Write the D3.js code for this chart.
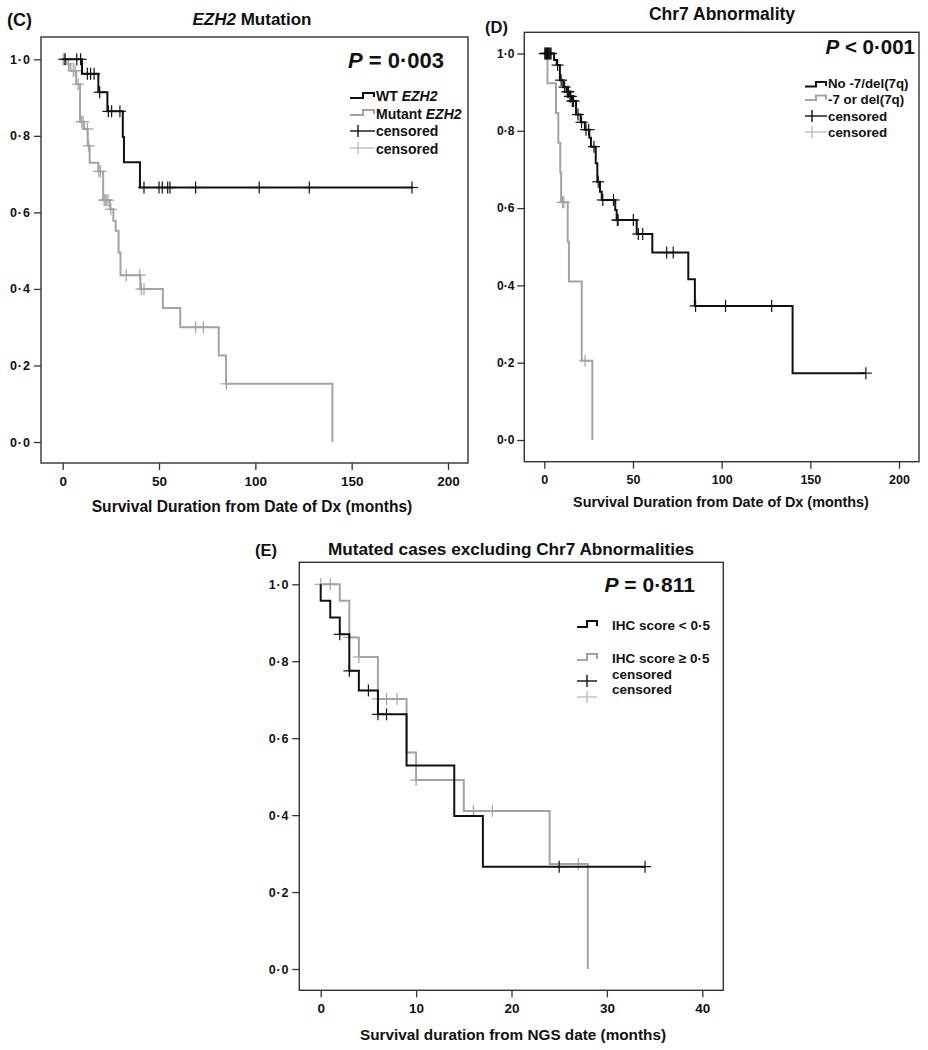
<!DOCTYPE html>
<html><head><meta charset="utf-8">
<script src="https://cdn.jsdelivr.net/npm/d3@7"></script>
<style>
body{margin:0;background:#fff;}
text{font-family:"Liberation Sans",Arial,Helvetica,sans-serif;font-weight:bold;fill:#111;}
</style></head>
<body><svg id="chart" width="928" height="1050"></svg>
<script>
// ---------- DATA ----------
const yTicks = [0, 0.2, 0.4, 0.6, 0.8, 1.0];
const yTickLabels = ["0·0", "0·2", "0·4", "0·6", "0·8", "1·0"];
const dxTicks = [0, 50, 100, 150, 200];
const ngsTicks = [0, 10, 20, 30, 40];

// Panel C: EZH2 mutation
const cWtTimes = [0, 10, 18.5, 23.2, 31.2, 31.8, 40.1, 181.5];
const cWtSurv  = [1, 0.962, 0.914, 0.864, 0.797, 0.731, 0.665, 0.665];
const cWtCens  = [1.2, 7.3, 9.3, 12.8, 14.5, 16.3, 19.2, 23.7, 25.4, 29.7, 42.2, 50, 51.7, 54.5, 55.7, 69, 102, 128, 181.3];
const cMutTimes = [0, 2, 4, 7, 9, 11, 13, 14, 18.5, 21, 24.5, 26.3, 27.5, 29, 30, 40.3, 52, 61, 81, 84.8, 140];
const cMutSurv  = [1, 0.988, 0.970, 0.935, 0.837, 0.818, 0.774, 0.730, 0.707, 0.632, 0.608, 0.578, 0.552, 0.495, 0.436, 0.400, 0.350, 0.300, 0.226, 0.152, 0];
const cMutCens  = [0.3, 1.2, 3, 5.5, 6.5, 8, 9.8, 10.6, 12.8, 13.5, 18.8, 19.6, 21.5, 22, 22.6, 23.5, 25, 33, 40, 40.8, 42.2, 69, 73, 85];

// Panel D: Chr7 abnormality
const dNoTimes = [0, 5.5, 7, 8.8, 10.7, 12.6, 14.1, 15.4, 17.9, 20.5, 22.9, 25.4, 26.3, 29, 29.9, 31.4, 32.4, 40, 40.8, 52.1, 60.9, 81.2, 84.9, 140, 181.3];
const dNoSurv  = [1, 0.983, 0.970, 0.931, 0.913, 0.901, 0.889, 0.877, 0.842, 0.822, 0.803, 0.782, 0.759, 0.716, 0.668, 0.642, 0.621, 0.595, 0.569, 0.533, 0.485, 0.416, 0.347, 0.173, 0.173];
const dNoCens  = [0.3, 0.8, 1.3, 1.8, 2.3, 2.8, 3.3, 3.8, 7.5, 9.5, 11.5, 13, 13.6, 14.5, 15, 15.8, 16.5, 19, 21, 23.5, 25, 28, 30.4, 33, 39, 41.2, 41.6, 50.2, 53, 55.5, 69, 72.7, 85.3, 102.2, 128.2, 181.3];
const dDelTimes = [0, 1.8, 6.6, 7.9, 9.0, 9.5, 13.2, 13.9, 21.1, 27.1];
const dDelSurv  = [1, 0.923, 0.846, 0.769, 0.692, 0.615, 0.513, 0.410, 0.205, 0];
const dDelCens  = [0.5, 1.2, 10.3, 11.0, 23];

// Panel E: mutated cases excluding Chr7 abnormalities
const eLowTimes = [0, 0, 1, 2, 3, 4, 6, 9, 14, 17, 34];
const eLowSurv  = [1, 0.957, 0.914, 0.870, 0.775, 0.724, 0.662, 0.529, 0.398, 0.266, 0.266];
const eLowCens  = [2, 3, 5, 6, 6.9, 25, 34];
const eHighTimes = [0, 2, 3, 4, 6, 9, 10, 15, 24, 28];
const eHighSurv  = [1, 0.957, 0.862, 0.811, 0.702, 0.563, 0.491, 0.411, 0.273, 0];
const eHighCens  = [0, 1, 3, 4, 6, 6.9, 8, 10, 16, 18, 27];

// ---------- DRAWING ----------
const BLACK = "#111", GRAY = "#a3a3a3", LGRAY = "#bdbdbd";
const svg = d3.select("#chart");
svg.append("rect").attr("width",928).attr("height",1050).attr("fill","#fff");

function survAt(times, surv, t){
  let s = surv[0];
  for(let i=0;i<times.length;i++){ if(times[i] <= t) s = surv[i]; }
  return s;
}

function panel(p){
  const g = svg.append("g");
  const x = d3.scaleLinear().domain(p.xDomain).range(p.xRange);
  const y = d3.scaleLinear().domain([0,1]).range(p.yRange);
  g.append("rect").attr("x",p.box[0]).attr("y",p.box[1])
    .attr("width",p.box[2]-p.box[0]).attr("height",p.box[3]-p.box[1])
    .attr("fill","none").attr("stroke","#333").attr("stroke-width",1.4);
  const ya = g.append("g").attr("transform",`translate(${p.box[0]},0)`)
    .call(d3.axisLeft(y).tickValues(yTicks).tickFormat((d,i)=>yTickLabels[i]).tickSize(7).tickPadding(3));
  ya.select(".domain").remove();
  ya.selectAll(".tick line").attr("stroke","#333").attr("stroke-width",1.3);
  ya.selectAll(".tick text").attr("font-size",p.yFont).attr("font-family",null).attr("fill","#111").attr("letter-spacing",p.yLs+"px");
  const xa = g.append("g").attr("transform",`translate(0,${p.box[3]})`)
    .call(d3.axisBottom(x).tickValues(p.xTicks).tickSize(7).tickPadding(6));
  xa.select(".domain").remove();
  xa.selectAll(".tick line").attr("stroke","#333").attr("stroke-width",1.3);
  xa.selectAll(".tick text").attr("font-size",p.xFont).attr("font-family",null).attr("fill","#111");
  g.append("text").attr("x",p.xTitle[0]).attr("y",p.xTitle[1]).attr("text-anchor","middle")
    .attr("font-size",p.xTitleFont).text(p.xTitleText);
  const line = d3.line().x(d=>x(d[0])).y(d=>y(d[1])).curve(d3.curveStepAfter);
  p.series.forEach(s=>{
    const pts = s.times.map((t,i)=>[t, s.surv[i]]);
    g.append("path").attr("d",line(pts)).attr("fill","none")
      .attr("stroke",s.color).attr("stroke-width",2);
    s.cens.forEach(t=>{
      const cx = x(t), cy = y(survAt(s.times,s.surv,t));
      g.append("line").attr("x1",cx).attr("x2",cx).attr("y1",cy-6).attr("y2",cy+6)
        .attr("stroke",s.color).attr("stroke-width",1.2);
      g.append("line").attr("x1",cx-6).attr("x2",cx+6).attr("y1",cy).attr("y2",cy)
        .attr("stroke",s.color).attr("stroke-width",1.2);
    });
  });
  return g;
}

function stepIcon(g, x0, x1, x2, yLow, yHigh, yEnd, color){
  g.append("path").attr("d",`M${x0},${yLow}H${x1}V${yHigh}H${x2}V${yEnd}`)
    .attr("fill","none").attr("stroke",color).attr("stroke-width",2);
}
function crossIcon(g, x0, x2, cx, cy, color){
  g.append("line").attr("x1",x0).attr("x2",x2).attr("y1",cy).attr("y2",cy).attr("stroke",color).attr("stroke-width",1.4);
  g.append("line").attr("x1",cx).attr("x2",cx).attr("y1",cy-6).attr("y2",cy+6).attr("stroke",color).attr("stroke-width",1.4);
}
function richText(g, x, y, size, parts, anchor){
  const t = g.append("text").attr("x",x).attr("y",y).attr("font-size",size).attr("text-anchor",anchor||"start");
  parts.forEach(pt=>{ t.append("tspan").attr("font-style",pt[1]?"italic":"normal").text(pt[0]); });
  return t;
}

// Panel C
const gC = panel({
  box:[41,37,468,463], xDomain:[0,200], xRange:[62.7,448], yRange:[442,59.3], xTicks:dxTicks,
  xFont:13.5, yFont:12.5, yLs:1, xTitleFont:15.6,
  xTitle:[252,512], xTitleText:"Survival Duration from Date of Dx (months)",
  series:[
    {times:cMutTimes, surv:cMutSurv, cens:cMutCens, color:GRAY},
    {times:cWtTimes, surv:cWtSurv, cens:cWtCens, color:BLACK}
  ]
});
gC.append("text").attr("x",7).attr("y",26).attr("font-size",18).text("(C)");
richText(gC, 252, 25, 17, [["EZH2",true],[" Mutation",false]], "middle");
richText(gC, 444, 68, 22, [["P",true],[" = 0·003",false]], "end");
stepIcon(gC, 350, 363, 374, 98, 93, 97, BLACK);
stepIcon(gC, 350, 363, 374, 115, 110, 114, GRAY);
crossIcon(gC, 350, 375, 358, 131, BLACK);
crossIcon(gC, 350, 375, 358, 148, LGRAY);
richText(gC, 376, 101, 14, [["WT ",false],["EZH2",true]]);
richText(gC, 376, 118.5, 14, [["Mutant ",false],["EZH2",true]]);
richText(gC, 376, 136, 14, [["censored",false]]);
richText(gC, 376, 153.5, 14, [["censored",false]]);

// Panel D
const gD = panel({
  box:[524.3,32.3,919,461.7], xDomain:[0,200], xRange:[544.3,899], yRange:[440,53.5], xTicks:dxTicks,
  xFont:12.5, yFont:12, yLs:0, xTitleFont:14.4,
  xTitle:[721,507], xTitleText:"Survival Duration from Date of Dx (months)",
  series:[
    {times:dDelTimes, surv:dDelSurv, cens:dDelCens, color:GRAY},
    {times:dNoTimes, surv:dNoSurv, cens:dNoCens, color:BLACK}
  ]
});
gD.append("text").attr("x",485).attr("y",33).attr("font-size",16.5).text("(D)");
richText(gD, 722, 20, 17.5, [["Chr7 Abnormality",false]], "middle");
richText(gD, 915, 54, 20.5, [["P",true],[" < 0·001",false]], "end");
stepIcon(gD, 805, 816, 826, 86.5, 82, 86, BLACK);
stepIcon(gD, 805, 816, 826, 100, 95.5, 99.5, GRAY);
crossIcon(gD, 805, 827, 812, 116, BLACK);
crossIcon(gD, 805, 827, 812, 132, LGRAY);
richText(gD, 828, 87.5, 13.3, [["No -7/del(7q)",false]]);
richText(gD, 828, 104, 13.3, [["-7 or del(7q)",false]]);
richText(gD, 828, 120.5, 13.3, [["censored",false]]);
richText(gD, 828, 136.5, 13.3, [["censored",false]]);

// Panel E
const gE = panel({
  box:[299.3,562.3,723.3,990.3], xDomain:[0,40], xRange:[320.7,702.3], yRange:[969,584.3], xTicks:ngsTicks,
  xFont:13.5, yFont:12.5, yLs:0.8, xTitleFont:15.3,
  xTitle:[513,1040], xTitleText:"Survival duration from NGS date (months)",
  series:[
    {times:eHighTimes, surv:eHighSurv, cens:eHighCens, color:GRAY},
    {times:eLowTimes, surv:eLowSurv, cens:eLowCens, color:BLACK}
  ]
});
gE.append("text").attr("x",255).attr("y",556).attr("font-size",16.5).text("(E)");
richText(gE, 511, 555, 17.2, [["Mutated cases excluding Chr7 Abnormalities",false]], "middle");
richText(gE, 695, 592, 21, [["P",true],[" = 0·811",false]], "end");
stepIcon(gE, 577, 587, 597, 627, 621, 626, BLACK);
stepIcon(gE, 577, 587, 597, 660, 654, 659, GRAY);
crossIcon(gE, 577, 597, 587, 681, BLACK);
crossIcon(gE, 577, 597, 587, 697, LGRAY);
richText(gE, 612, 630, 13.5, [["IHC score < 0·5",false]]);
richText(gE, 612, 663, 13.5, [["IHC score ≥ 0·5",false]]);
richText(gE, 612, 678.5, 13.5, [["censored",false]]);
richText(gE, 612, 694, 13.5, [["censored",false]]);
</script></body></html>
